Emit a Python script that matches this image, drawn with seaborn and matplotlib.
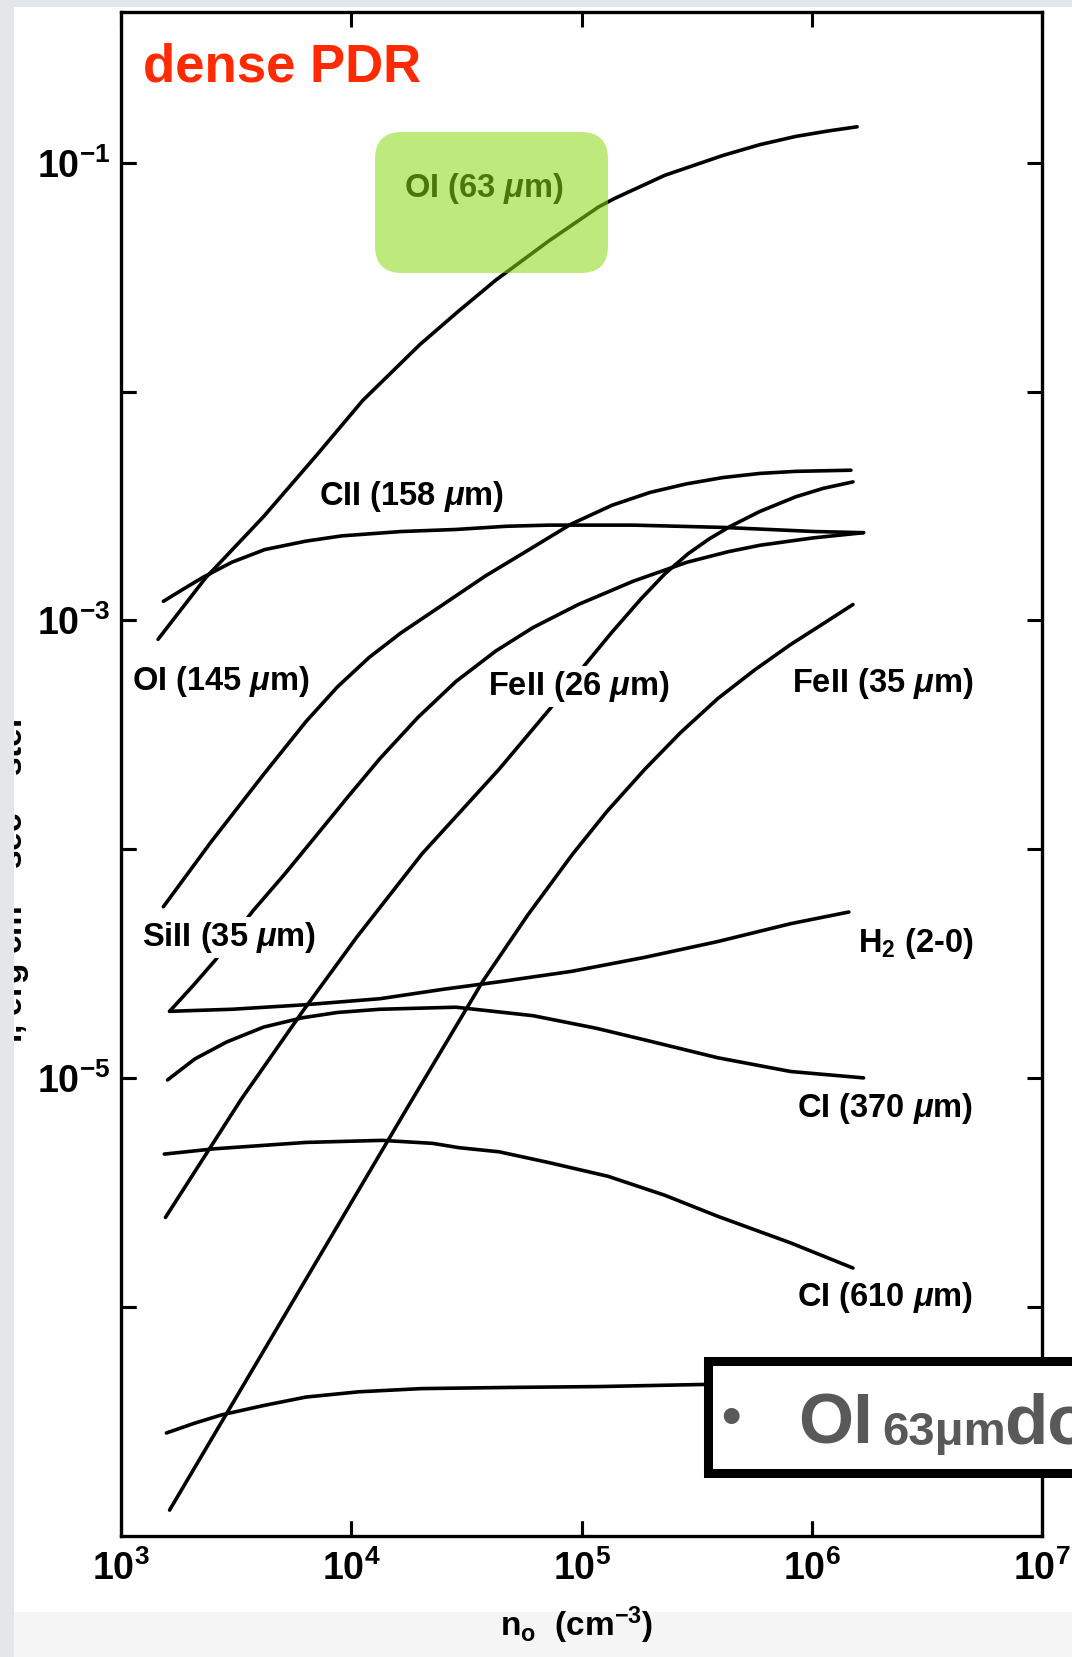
import numpy as np
import pandas as pd
import matplotlib
matplotlib.use("Agg")
import matplotlib.pyplot as plt
from matplotlib.lines import Line2D
from matplotlib.patches import FancyBboxPatch, Rectangle
from matplotlib.ticker import NullLocator
from matplotlib.transforms import IdentityTransform
import seaborn as sns

# ---- line intensities vs. density (log10 n_o [cm^-3], log10 I [erg cm^-2 s^-1 sr^-1]) ----
oi63_logn = [3.161, 3.367, 3.619, 3.849, 4.050, 4.298, 4.468, 4.628, 4.858, 5.073, 5.142,
             5.362, 5.615, 5.775, 5.931, 6.073, 6.197]
oi63_logI = [-3.083, -2.815, -2.547, -2.279, -2.039, -1.795, -1.647, -1.513, -1.342, -1.194, -1.157,
             -1.055, -0.968, -0.921, -0.885, -0.861, -0.843]

cii_logn = [3.184, 3.275, 3.358, 3.482, 3.624, 3.803, 3.959, 4.216, 4.454, 4.674, 4.858, 5.225,
            5.615, 6.014, 6.225]
cii_logI = [-2.917, -2.861, -2.811, -2.746, -2.691, -2.654, -2.631, -2.612, -2.603, -2.589, -2.584,
            -2.584, -2.594, -2.612, -2.617]

oi145_logn = [3.184, 3.390, 3.619, 3.803, 3.940, 4.078, 4.216, 4.399, 4.583, 4.766, 4.954, 5.133,
              5.298, 5.454, 5.615, 5.775, 5.931, 6.170]
oi145_logI = [-4.252, -3.970, -3.674, -3.443, -3.291, -3.162, -3.055, -2.931, -2.806, -2.695, -2.580,
              -2.497, -2.441, -2.404, -2.376, -2.358, -2.349, -2.344]

sii_logn = [3.211, 3.312, 3.408, 3.573, 3.711, 3.839, 3.986, 4.124, 4.289, 4.454, 4.628, 4.789,
            4.986, 5.225, 5.459, 5.638, 5.775, 6.005, 6.225]
sii_logI = [-4.709, -4.598, -4.487, -4.270, -4.109, -3.952, -3.771, -3.605, -3.425, -3.268, -3.134,
            -3.032, -2.931, -2.829, -2.746, -2.700, -2.672, -2.640, -2.617]

fe26_logn = [3.193, 3.523, 3.789, 4.023, 4.307, 4.642, 4.862, 5.023, 5.133, 5.257, 5.362, 5.463,
             5.555, 5.647, 5.775, 5.931, 6.051, 6.179]
fe26_logI = [-5.610, -5.092, -4.709, -4.386, -4.021, -3.651, -3.388, -3.185, -3.051, -2.908, -2.797,
             -2.709, -2.644, -2.589, -2.524, -2.460, -2.423, -2.395]

fe35_logn = [3.211, 3.734, 4.252, 4.573, 4.766, 4.959, 5.110, 5.275, 5.431, 5.592, 5.752, 5.908,
             6.051, 6.179]
fe35_logI = [-6.889, -5.998, -5.116, -4.575, -4.289, -4.025, -3.836, -3.651, -3.490, -3.342, -3.217,
             -3.106, -3.014, -2.931]

h2_logn = [3.211, 3.482, 3.789, 4.124, 4.404, 4.642, 4.959, 5.275, 5.592, 5.908, 6.161]
h2_logI = [-4.709, -4.700, -4.681, -4.654, -4.612, -4.580, -4.534, -4.473, -4.404, -4.326, -4.275]

ci370_logn = [3.202, 3.321, 3.459, 3.619, 3.789, 3.940, 4.124, 4.454, 4.789, 5.064, 5.275, 5.592,
              5.908, 6.225]
ci370_logI = [-5.009, -4.917, -4.843, -4.778, -4.737, -4.714, -4.700, -4.691, -4.728, -4.783, -4.834,
              -4.912, -4.972, -5.000]

ci610_logn = [3.188, 3.404, 3.803, 4.133, 4.353, 4.468, 4.642, 4.858, 5.115, 5.362, 5.592, 5.908, 6.179]
ci610_logI = [-5.333, -5.310, -5.282, -5.273, -5.286, -5.305, -5.323, -5.370, -5.430, -5.513, -5.605,
              -5.721, -5.831]

low_logn = [3.197, 3.317, 3.436, 3.619, 3.803, 4.032, 4.303, 4.674, 5.078, 5.523, 6.179]
low_logI = [-6.552, -6.510, -6.473, -6.432, -6.395, -6.372, -6.358, -6.353, -6.349, -6.340, -6.340]

curves = {
    "OI 63": (oi63_logn, oi63_logI),
    "CII 158": (cii_logn, cii_logI),
    "OI 145": (oi145_logn, oi145_logI),
    "SiII 35": (sii_logn, sii_logI),
    "FeII 26": (fe26_logn, fe26_logI),
    "FeII 35": (fe35_logn, fe35_logI),
    "H2 2-0": (h2_logn, h2_logI),
    "CI 370": (ci370_logn, ci370_logI),
    "CI 610": (ci610_logn, ci610_logI),
    "low": (low_logn, low_logI),
}

# curve labels: text, log n, log I, horizontal alignment, gap in the line behind it
MU = r"$\mathit{μ}$"
label_text = [f"OI (63 {MU}m)", f"CII (158 {MU}m)", f"OI (145 {MU}m)", f"FeII (26 {MU}m)",
              f"FeII (35 {MU}m)", f"SiII (35 {MU}m)", r"H$_2$ (2-0)", f"CI (370 {MU}m)",
              f"CI (610 {MU}m)"]
label_logn = [4.229, 3.858, 3.046, 4.592, 6.702, 3.092, 6.702, 6.702, 6.702]
label_logI = [-1.111, -2.460, -3.268, -3.291, -3.277, -4.386, -4.413, -5.134, -5.961]
label_ha = ["left", "left", "left", "left", "right", "left", "right", "right", "right"]
label_gap = [False, False, False, True, False, True, False, False, False]

x_ticks = [1e3, 1e4, 1e5, 1e6, 1e7]
x_ticklabels = [r"$10^{3}$", r"$10^{4}$", r"$10^{5}$", r"$10^{6}$", r"$10^{7}$"]
y_ticks = [1e-6, 1e-5, 1e-4, 1e-3, 1e-2, 1e-1]
y_ticklabels = ["", r"$10^{-5}$", "", r"$10^{-3}$", "", r"$10^{-1}$"]

rows = []
for name, (ln, li) in curves.items():
    for a, b in zip(ln, li):
        rows.append({"curve": name, "n": 10 ** a, "I": 10 ** b})
df = pd.DataFrame(rows)

# ---- style ----
sns.set_theme(style="ticks")
plt.rcParams["font.family"] = ["Liberation Sans", "DejaVu Sans"]
plt.rcParams.update({
    "font.weight": "bold",
    "axes.axisbelow": False,
    "mathtext.fontset": "custom",
    "mathtext.rm": "Liberation Sans:bold",
    "mathtext.it": "Liberation Sans:italic:bold",
    "mathtext.bf": "Liberation Sans:bold",
    "mathtext.default": "regular",
})

W, H = 1072, 1657
fig = plt.figure(figsize=(W / 100, H / 100), dpi=100)
fig.patch.set_facecolor("white")
ax = fig.add_axes([121 / W, 1 - 1535.5 / H, (1042 - 121) / W, (1535.5 - 11.7) / H])
ax.set_facecolor("white")

sns.lineplot(data=df, x="n", y="I", units="curve", estimator=None, sort=False,
             color="black", linewidth=2.6, ax=ax, legend=False)
for ln in ax.get_lines():
    ln.set_solid_joinstyle("round")

ax.set_xscale("log")
ax.set_yscale("log")
ax.set_xlim(1e3, 1e7)
ax.set_ylim(1e-7, 10 ** -0.34)
ax.set_xticks(x_ticks)
ax.set_xticklabels(x_ticklabels)
ax.set_yticks(y_ticks)
ax.set_yticklabels(y_ticklabels)
ax.xaxis.set_minor_locator(NullLocator())
ax.yaxis.set_minor_locator(NullLocator())
ax.set_xlabel("")
ax.set_ylabel("")
ax.tick_params(which="major", direction="in", length=10.8, width=2.2, color="black",
               bottom=True, top=True, left=True, right=True, labelsize=27, labelcolor="black")
ax.tick_params(axis="x", pad=11, labelbottom=True, labeltop=False)
ax.tick_params(axis="y", pad=8, labelleft=True, labelright=False)
for s in ax.spines.values():
    s.set_linewidth(2.4)
    s.set_color("black")

px = IdentityTransform()

# inward tick marks along the bottom and left frame, placed through the data transform
tick_len = 15
x_lo, y_lo = ax.get_xlim()[0], ax.get_ylim()[0]
for xv in x_ticks[1:-1]:
    x0, y0 = ax.transData.transform((xv, y_lo))
    fig.add_artist(Line2D([x0, x0], [y0, y0 + tick_len], transform=px, color="black", lw=2.2,
                          solid_capstyle="butt", zorder=20))
for yv in y_ticks:
    x0, y0 = ax.transData.transform((x_lo, yv))
    fig.add_artist(Line2D([x0, x0 + tick_len], [y0, y0], transform=px, color="black", lw=2.2,
                          solid_capstyle="butt", zorder=20))

for t, a, b, ha, gap in zip(label_text, label_logn, label_logI, label_ha, label_gap):
    kw = dict(bbox=dict(fc="white", ec="none", pad=2)) if gap else {}
    ax.text(10 ** a, 10 ** b, t, ha=ha, va="center", fontsize=23.5, color="black", zorder=4, **kw)

# axis titles
fig.text(576, H - 1636, r"n$_o$  (cm$^{-3}$)", transform=px, ha="center", va="baseline",
         fontsize=24, color="black", zorder=3)
fig.text(33, H - 865, r"I, erg cm$^{-2}$ sec$^{-1}$ ster$^{-1}$", transform=px, rotation=90,
         ha="right", va="center", fontsize=24, color="black", zorder=3)

# page frame
fig.add_artist(Rectangle((14, 0), W, 45, transform=px, fc="#f5f5f5", ec="none", zorder=1))
fig.add_artist(Rectangle((0, 0), 14, H, transform=px, fc="#e4e7ea", ec="none", zorder=10))
fig.add_artist(Rectangle((0, H - 7), W, 7, transform=px, fc="#e4e7ea", ec="none", zorder=10))

# title and highlight
fig.text(143, H - 81.5, "dense PDR", transform=px, ha="left", va="baseline", fontsize=38,
         fontweight="bold", color="#ff2a00", zorder=7)
fig.add_artist(FancyBboxPatch((375, H - 273), 233, 141, boxstyle="round,pad=0,rounding_size=27",
                              transform=px, fc=(0.54, 0.85, 0.07), alpha=0.55, ec="none", zorder=6))

# callout box
fig.add_artist(Rectangle((707.5, H - 1472.5), 500, 112, transform=px, fc="white", ec="black",
                         lw=6.5, zorder=6))
grey = "#595959"
fig.text(731, H - 1420, "•", transform=px, ha="center", va="center", fontsize=40, color=grey, zorder=7)
fig.text(798, H - 1443, "OI", transform=px, ha="left", va="baseline", fontsize=51,
         fontweight="bold", color=grey, zorder=7)
fig.text(882, H - 1445, "63μm", transform=px, ha="left", va="baseline", fontsize=34,
         fontweight="bold", color=grey, zorder=7)
fig.text(1004, H - 1443, "dominates", transform=px, ha="left", va="baseline", fontsize=51,
         fontweight="bold", color=grey, zorder=7)

fig.savefig("out.png", dpi=100)
